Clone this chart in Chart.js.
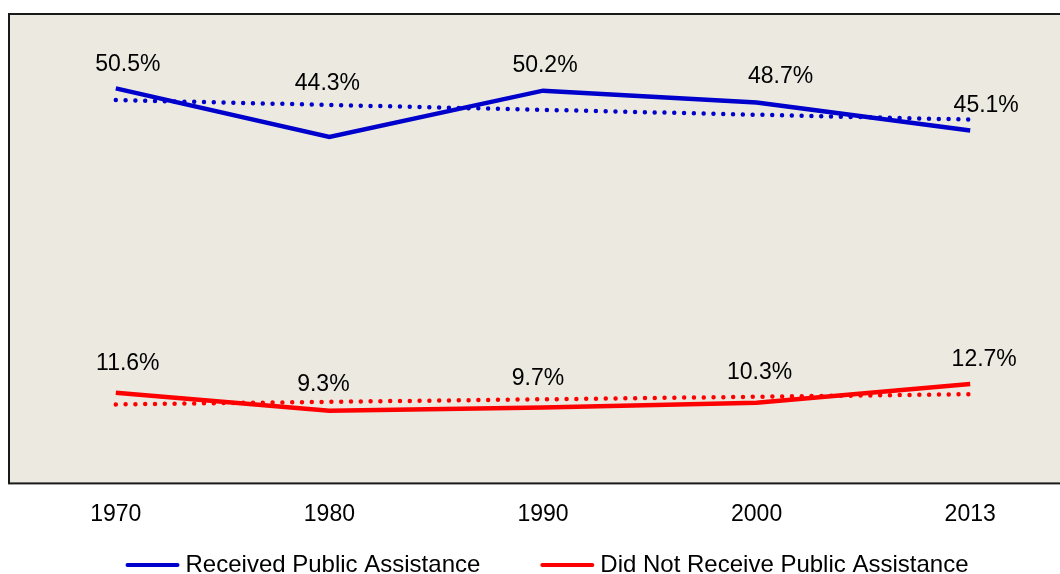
<!DOCTYPE html>
<html>
<head>
<meta charset="utf-8">
<script src="https://cdn.jsdelivr.net/npm/chart.js@4"></script>
<style>
  html, body { margin: 0; padding: 0; background: #fff; overflow: hidden; }
  canvas { display: block; }
</style>
</head>
<body>
<canvas id="lineChart" width="1080" height="574"></canvas>
<script>
// Data
const years = ["1970", "1980", "1990", "2000", "2013"];
const received = [50.5, 44.3, 50.2, 48.7, 45.1];
const notReceived = [11.6, 9.3, 9.7, 10.3, 12.7];
// Trend line ends (dotted)
const receivedTrend = [49.0, null, null, null, 46.5];
const notReceivedTrend = [10.1, null, null, null, 11.4];
const seriesNames = ["Received Public Assistance", "Did Not Receive Public Assistance"];

const FONT = "'Liberation Sans', Arial, sans-serif";
const BLUE = "#0000CC";
const RED = "#FF0000";

// label offsets from each point (dx, dy), manual like the original
const labelOffsets = [
  [[12, -24], [-2, -53], [2, -25], [24, -26], [16, -25]],
  [[12, -29], [-6, -26], [-5, -29], [3, -30], [14, -24]],
];

// plot background + frame
const plotBackground = {
  id: "plotBackground",
  beforeDraw(chart) {
    const { ctx, chartArea: a } = chart;
    ctx.save();
    ctx.fillStyle = "#ECE9E0";
    ctx.fillRect(a.left, a.top, a.right - a.left, a.bottom - a.top);
    ctx.strokeStyle = "#1a1a1a";
    ctx.lineWidth = 2;
    ctx.strokeRect(a.left, a.top, a.right - a.left, a.bottom - a.top);
    ctx.restore();
  },
};

// percent labels above the solid lines
const valueLabels = {
  id: "valueLabels",
  afterDatasetsDraw(chart) {
    const { ctx } = chart;
    ctx.save();
    ctx.font = "23px " + FONT;
    ctx.fillStyle = "#000";
    ctx.textAlign = "center";
    ctx.textBaseline = "middle";
    [0, 1].forEach((di) => {
      const meta = chart.getDatasetMeta(di);
      const values = chart.data.datasets[di].data;
      meta.data.forEach((pt, i) => {
        const [dx, dy] = labelOffsets[di][i];
        ctx.fillText(values[i].toFixed(1) + "%", pt.x + dx, pt.y + dy);
      });
    });
    ctx.restore();
  },
};

// legend drawn at the bottom (line swatch + text)
const bottomLegend = {
  id: "bottomLegend",
  afterDraw(chart) {
    const { ctx, chartArea: a } = chart;
    const ds = chart.data.datasets.filter((d) => !d.isTrend);
    const lineW = 54, gap = 6, itemGap = 60;
    ctx.save();
    ctx.font = "24px " + FONT;
    ctx.textBaseline = "middle";
    const widths = ds.map((d) => lineW + gap + ctx.measureText(d.label).width);
    const total = widths.reduce((s, w) => s + w, 0) + itemGap * (ds.length - 1);
    let x = (a.left + a.right) / 2 + 4 - total / 2;
    const y = 565;
    ds.forEach((d, i) => {
      ctx.strokeStyle = d.borderColor;
      ctx.lineWidth = 4;
      ctx.lineCap = "round";
      ctx.beginPath();
      ctx.moveTo(x + 2, y);
      ctx.lineTo(x + lineW - 2, y);
      ctx.stroke();
      ctx.fillStyle = "#000";
      ctx.fillText(d.label, x + lineW + gap, y);
      x += widths[i] + itemGap;
    });
    ctx.restore();
  },
};

const lineChart = new Chart(document.getElementById("lineChart"), {
  type: "line",
  data: {
    labels: years,
    datasets: [
      {
        label: seriesNames[0],
        data: received,
        borderColor: BLUE,
        borderWidth: 4.5,
        pointRadius: 0,
        tension: 0,
      },
      {
        label: seriesNames[1],
        data: notReceived,
        borderColor: RED,
        borderWidth: 4.5,
        pointRadius: 0,
        tension: 0,
      },
      {
        label: "Linear (" + seriesNames[0] + ")",
        isTrend: true,
        data: receivedTrend,
        borderColor: BLUE,
        borderWidth: 4.5,
        borderDash: [0, 9.8],
        borderCapStyle: "round",
        pointRadius: 0,
        spanGaps: true,
      },
      {
        label: "Linear (" + seriesNames[1] + ")",
        isTrend: true,
        data: notReceivedTrend,
        borderColor: RED,
        borderWidth: 4.5,
        borderDash: [0, 9.8],
        borderCapStyle: "round",
        pointRadius: 0,
        spanGaps: true,
      },
    ],
  },
  options: {
    responsive: false,
    animation: false,
    layout: {
      padding: { top: 14, left: 9, right: 3, bottom: 29 },
    },
    scales: {
      x: {
        offset: true,
        grid: { display: false, drawTicks: false },
        border: { display: false },
        ticks: {
          color: "#000",
          padding: 17,
          font: { family: FONT, size: 23 },
        },
      },
      y: {
        display: false,
        min: 0,
        max: 60,
      },
    },
    plugins: {
      legend: { display: false },
      tooltip: { enabled: false },
    },
  },
  plugins: [plotBackground, valueLabels, bottomLegend],
});
</script>
</body>
</html>
